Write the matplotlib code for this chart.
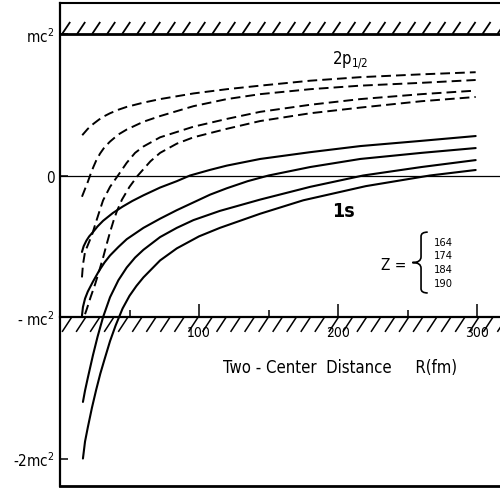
import numpy as np
import matplotlib
matplotlib.use("Agg")
import matplotlib.pyplot as plt
from matplotlib import font_manager as fm
from matplotlib.collections import LineCollection
from matplotlib.path import Path
from matplotlib.patches import PathPatch

# ---------------- data (R in fm, E in units of mc^2) ----------------
Z_values = [164, 174, 184, 190]

r_2p_164 = [16, 20, 24, 28, 32, 36, 42, 48, 60, 72, 96, 120, 144, 180, 216, 260, 299]
e_2p_164 = [0.285, 0.33, 0.365, 0.395, 0.42, 0.44, 0.465, 0.485, 0.515, 0.54, 0.58, 0.61,
            0.635, 0.67, 0.695, 0.715, 0.73]

r_2p_174 = [15.8, 18, 20, 22, 24, 26, 28.8, 32, 36, 42, 48, 60, 72, 96, 120, 144, 180, 216, 260, 299]
e_2p_174 = [-0.15, -0.095, -0.045, 0.01, 0.06, 0.105, 0.155, 0.2, 0.24, 0.29, 0.325, 0.38,
            0.42, 0.49, 0.54, 0.575, 0.61, 0.635, 0.655, 0.675]

r_2p_184 = [15.8, 16.5, 18, 20.5, 23, 25.2, 28.8, 31, 36, 41.7, 48, 54, 60, 72, 96, 120, 144, 180, 216, 260, 299]
e_2p_184 = [-0.72, -0.63, -0.54, -0.48, -0.42, -0.35, -0.24, -0.175, -0.08, 0.0, 0.09, 0.16,
            0.205, 0.27, 0.345, 0.40, 0.45, 0.50, 0.54, 0.575, 0.60]

r_2p_190 = [18, 19.4, 22, 25.2, 28, 31, 34, 36, 38.5, 41, 44.6, 50, 56, 65, 72, 84, 96, 120, 144, 180, 216, 260, 299]
e_2p_190 = [-0.98, -0.94, -0.86, -0.77, -0.68, -0.58, -0.47, -0.40, -0.32, -0.25, -0.17, -0.08,
            0.0, 0.10, 0.16, 0.225, 0.27, 0.33, 0.385, 0.44, 0.48, 0.525, 0.555]

r_1s_164 = [15.8, 17, 19, 21, 23.7, 27, 31, 38, 45, 52, 60, 72, 84, 93.5, 108, 120, 144, 180, 216, 260, 299]
e_1s_164 = [-0.54, -0.50, -0.46, -0.43, -0.40, -0.36, -0.32, -0.265, -0.22, -0.18, -0.14,
            -0.085, -0.04, 0.0, 0.04, 0.07, 0.117, 0.165, 0.208, 0.245, 0.279]

r_1s_174 = [15.8, 16.5, 18, 20, 23.7, 28, 32, 36, 42, 48, 60, 72, 84, 96, 108, 120, 135, 150, 180, 216, 260, 299]
e_1s_174 = [-0.99, -0.93, -0.87, -0.82, -0.75, -0.675, -0.615, -0.565, -0.505, -0.45, -0.37,
            -0.305, -0.245, -0.19, -0.135, -0.09, -0.04, 0.0, 0.06, 0.117, 0.16, 0.194]

r_1s_184 = [16.5, 18, 20, 23.7, 27, 31, 36, 42, 48, 54, 60, 72, 84, 96, 115, 144, 180, 218, 260, 299]
e_1s_184 = [-1.60, -1.52, -1.43, -1.27, -1.14, -1.0, -0.86, -0.74, -0.65, -0.58, -0.525,
            -0.435, -0.37, -0.315, -0.25, -0.17, -0.08, 0.0, 0.06, 0.109]

r_1s_190 = [16.5, 18, 20, 23, 26, 29, 32, 36, 40, 45, 50, 55, 60, 72, 84, 100, 115, 144, 175, 220, 266, 299]
e_1s_190 = [-2.0, -1.88, -1.78, -1.64, -1.515, -1.40, -1.30, -1.17, -1.06, -0.94, -0.85,
            -0.78, -0.72, -0.60, -0.515, -0.43, -0.37, -0.27, -0.175, -0.075, 0.0, 0.039]

ytick_vals = [1, 0, -1, -2]
ytick_labels = ["mc$^2$", "0", "- mc$^2$", "-2mc$^2$"]
xtick_major = [100, 200, 300]
xtick_minor = [50, 150, 250]

# ---------------- font ----------------
names = {f.name for f in fm.fontManager.ttflist}
FONT = "DejaVu Sans"
STRETCH = "normal"
if "Liberation Sans Narrow" in names:
    FONT = "Liberation Sans Narrow"
elif any(f.name == "DejaVu Sans" and str(f.stretch) in ("condensed", "semi-condensed")
         for f in fm.fontManager.ttflist):
    STRETCH = "condensed"
plt.rcParams["font.family"] = [FONT, "DejaVu Sans"]
plt.rcParams["font.stretch"] = STRETCH
plt.rcParams["mathtext.fontset"] = "custom"
plt.rcParams["mathtext.rm"] = FONT
plt.rcParams["mathtext.default"] = "regular"

XMIN, XMAX = 0, 316.5
YMIN, YMAX = -2.194, 1.219

fig = plt.figure(figsize=(5.0, 4.89), dpi=100)
ax = fig.add_axes([0.12, 0.0041, 0.88, 0.9877])
ax.set_xlim(XMIN, XMAX)
ax.set_ylim(YMIN, YMAX)

# curves
dashed = [(r_2p_164, e_2p_164), (r_2p_174, e_2p_174), (r_2p_184, e_2p_184), (r_2p_190, e_2p_190)]
solid = [(r_1s_164, e_1s_164), (r_1s_174, e_1s_174), (r_1s_184, e_1s_184), (r_1s_190, e_1s_190)]
for r, e in dashed:
    ax.plot(r, e, color="black", lw=1.4, ls=(0, (5, 2.6)), solid_joinstyle="round")
for r, e in solid:
    ax.plot(r, e, color="black", lw=1.5, solid_joinstyle="round", solid_capstyle="round")

# reference lines
ax.axhline(1.0, color="black", lw=2.0)
ax.axhline(0.0, color="black", lw=0.9)
ax.axhline(YMIN, color="black", lw=2.0, clip_on=False)

# hatching (decoration)
top_x = np.arange(1.5, XMAX, 10.8)
top_segs = [[(x, 1.0), (x + 5.8, 1.085)] for x in top_x]
ax.add_collection(LineCollection(top_segs, colors="black", linewidths=1.3))
bot_x = np.arange(1.5, XMAX, 10.1)
bot_segs = [[(x, -1.105), (x + 7.0, -1.0)] for x in bot_x]
ax.add_collection(LineCollection(bot_segs, colors="black", linewidths=1.1))

# spines
ax.spines["right"].set_visible(False)
ax.spines["left"].set_linewidth(1.6)
ax.spines["top"].set_linewidth(1.5)
ax.spines["bottom"].set_position(("data", -1.0))
ax.spines["bottom"].set_linewidth(1.6)

# ticks
ax.set_xticks(xtick_major)
ax.set_xticks(xtick_minor, minor=True)
ax.tick_params(axis="x", which="major", direction="in", length=9.5, width=1.1,
               pad=6, labelsize=10)
ax.tick_params(axis="x", which="minor", direction="in", length=5, width=1.1)
for lbl in ax.get_xticklabels():
    lbl.set_bbox(dict(facecolor="white", edgecolor="none", pad=0.3))
ax.set_yticks(ytick_vals)
ax.set_yticklabels(ytick_labels)
ax.tick_params(axis="y", direction="in", length=6, width=1.1, pad=4, labelsize=11)

ax.set_xlabel("Two - Center  Distance     R(fm)", fontsize=12)
ax.xaxis.set_label_coords(0.636, 0.264)

# annotations
ax.text(196, 0.82, "2p$_{1/2}$", fontsize=12, ha="left", va="center")
ax.text(204, -0.25, "1s", fontsize=14, ha="center", va="center", fontweight="bold")
ax.text(240, -0.63, "Z =", fontsize=11, ha="center", va="center")
num_y = [-0.47, -0.56, -0.66, -0.76]
for z, y in zip(Z_values, num_y):
    ax.text(269, y, str(z), fontsize=8, ha="left", va="center")

# brace (decoration)
bx, tipx, endx = 259.7, 253.5, 264.5
y0, y1 = -0.40, -0.83
ym = (y0 + y1) / 2
verts = [(endx, y0), (bx, y0), (bx, y0 - 0.03), (bx, ym + 0.04),
         (bx, ym), (tipx, ym), (bx, ym), (bx, ym - 0.04),
         (bx, y1 + 0.03), (bx, y1), (endx, y1)]
codes = [Path.MOVETO, Path.CURVE3, Path.CURVE3, Path.LINETO,
         Path.CURVE3, Path.CURVE3, Path.CURVE3, Path.CURVE3,
         Path.LINETO, Path.CURVE3, Path.CURVE3]
ax.add_patch(PathPatch(Path(verts, codes), fill=False, lw=1.2, ec="black"))

fig.savefig("out.png", dpi=100)
